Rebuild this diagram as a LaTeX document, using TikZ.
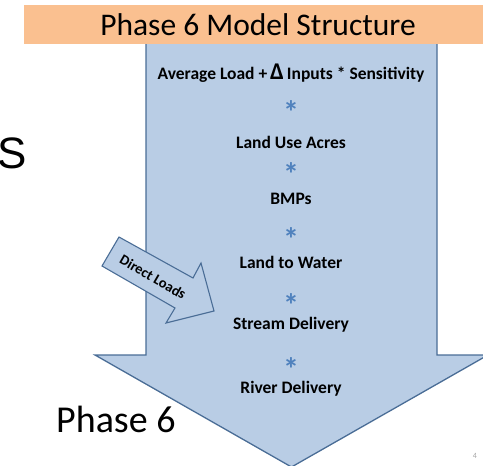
\documentclass[tikz,border=0pt]{standalone}
\usepackage{fontspec}
\setmainfont{Carlito}
\newfontfamily\arialf{Liberation Sans}
\definecolor{arrowfill}{HTML}{B9CDE5}
\definecolor{arrowline}{HTML}{4A6D96}
\definecolor{barfill}{HTML}{FAC090}
\definecolor{stargray}{HTML}{4F81BD}
\begin{document}
\begin{tikzpicture}[x=1pt,y=-1pt,
  lbl/.style={font=\fontsize{17.5}{19}\selectfont\bfseries, text=black, inner sep=0pt},
  star/.style={font=\fontsize{32}{32}\selectfont\bfseries, text=stargray, inner sep=0pt, anchor=base},
  bigarrow/.style={fill=arrowfill, draw=arrowline, line width=1.3pt, line join=miter},
]
\useasboundingbox (0,0) rectangle (483,466);
\begin{scope}
\clip (0,0) rectangle (483,466);
% big arrow
\draw[bigarrow] (146,40) -- (437,40) -- (437,355) -- (488,355) -- (291.5,467) -- (95,355) -- (146,355) -- cycle;
% title bar
\fill[barfill] (24,5) rectangle (490,44);
\node[font=\fontsize{31.5}{34}\selectfont, inner sep=0pt] (title) at (258,24.5) {Phase 6 Model Structure};
% clipped big letter
\node[font=\arialf\fontsize{44}{48}\selectfont, anchor=base east, inner sep=0pt] (s) at (27,168) {S};
\end{scope}
% labels
\node[lbl] (avg) at (291,73) {Average Load +\,{\fontsize{24}{24}\selectfont Δ}\,Inputs * Sensitivity};
\node[star] (s1) at (291,123) {*};
\node[lbl] (lua) at (291,142) {Land Use Acres};
\node[star] (s2) at (291,185) {*};
\node[lbl] (bmp) at (291,199) {BMPs};
\node[star] (s3) at (291,250) {*};
\node[lbl] (ltw) at (291,262) {Land to Water};
\node[star] (s4) at (291,316) {*};
\node[lbl] (sd) at (291,325) {Stream Delivery};
\node[star] (s5) at (291,380) {*};
\node[lbl] (rd) at (291,389) {River Delivery};
% direct loads arrow
\draw[fill=arrowfill, draw=arrowline, line width=1.1pt, line join=miter]
  (119,237) -- (193,278) -- (201,263) -- (214,311) -- (166,323) -- (175,308) -- (102,266) -- cycle;
\node[font=\fontsize{14.5}{15}\selectfont\bfseries, rotate=-30, inner sep=0pt] (dl) at (153,277) {Direct Loads};
% bottom text
\node[font=\fontsize{38}{40}\selectfont, anchor=base west, inner sep=0pt] (p6) at (56,432) {Phase 6};
\node[font=\fontsize{8}{9}\selectfont, text=gray!70, inner sep=0pt] (pg) at (475,456) {4};
\end{tikzpicture}
\end{document}
